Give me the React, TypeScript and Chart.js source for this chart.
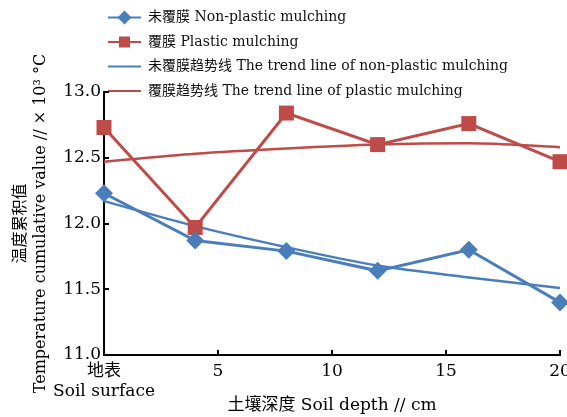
import React, { useEffect, useRef } from 'react';
import { Chart, registerables } from 'chart.js';

Chart.register(...registerables);

// ---- data ----
const depths = [0, 4, 8, 12, 16, 20];
const nonPlastic = [12.23, 11.87, 11.79, 11.64, 11.8, 11.4];
const plastic = [12.73, 11.97, 12.84, 12.6, 12.76, 12.47];
const nonPlasticTrend = [12.17, 11.98, 11.82, 11.68, 11.59, 11.51];
const plasticTrend = [12.47, 12.53, 12.57, 12.6, 12.61, 12.58];
const xTicks = [0, 5, 10, 15, 20];
const yTicks = [11.0, 11.5, 12.0, 12.5, 13.0];
const seriesLabels = [
  '未覆膜 Non-plastic mulching',
  '覆膜 Plastic mulching',
  '未覆膜趋势线 The trend line of non-plastic mulching',
  '覆膜趋势线 The trend line of plastic mulching',
];
const surfaceLabel = ['地表', 'Soil surface'];
const xTitle = '土壤深度 Soil depth // cm';
const yTitle = ['温度累积值', 'Temperature cumulative value // × 10³ °C'];

const BLUE = '#4A7EBB';
const RED = '#BE4B48';
const FONT = "'DejaVu Serif', 'Noto Sans CJK SC', serif";

const toPoints = (ys: number[]) => depths.map((x, i) => ({ x, y: ys[i] }));

const stackedLegend = {
  id: 'stackedLegend',
  afterDraw(chart: any) {
    const ctx = chart.ctx as CanvasRenderingContext2D;
    const x0 = chart.chartArea.left + 4;
    const lineLen = 33;
    chart.data.datasets.forEach((ds: any, i: number) => {
      const y = 17.5 + i * 24.5;
      ctx.save();
      ctx.strokeStyle = ds.borderColor;
      ctx.lineWidth = 2;
      ctx.beginPath();
      ctx.moveTo(x0, y);
      ctx.lineTo(x0 + lineLen, y);
      ctx.stroke();
      const cx = x0 + lineLen / 2;
      ctx.fillStyle = ds.borderColor;
      if (ds.pointRadius > 0) {
        if (ds.pointStyle === 'rectRot') {
          const r = 7;
          ctx.beginPath();
          ctx.moveTo(cx, y - r);
          ctx.lineTo(cx + r, y);
          ctx.lineTo(cx, y + r);
          ctx.lineTo(cx - r, y);
          ctx.closePath();
          ctx.fill();
        } else {
          const s = 5.5;
          ctx.fillRect(cx - s, y - s, 2 * s, 2 * s);
        }
      }
      ctx.fillStyle = '#111';
      ctx.font = `14px ${FONT}`;
      ctx.textBaseline = 'middle';
      ctx.textAlign = 'left';
      ctx.fillText(ds.label, x0 + lineLen + 7, y);
      ctx.restore();
    });
  },
};

const innerTicks = {
  id: 'innerTicks',
  afterDraw(chart: any) {
    const ctx = chart.ctx as CanvasRenderingContext2D;
    const { left, bottom } = chart.chartArea;
    const xs = chart.scales.x;
    const ys = chart.scales.y;
    ctx.save();
    ctx.strokeStyle = '#000';
    ctx.lineWidth = 2;
    ctx.beginPath();
    yTicks.forEach((v) => {
      if (v === ys.min) return;
      const p = Math.round(ys.getPixelForValue(v));
      ctx.moveTo(left, p);
      ctx.lineTo(left + 5, p);
    });
    xTicks.forEach((v) => {
      if (v === xs.min) return;
      const p = Math.round(xs.getPixelForValue(v));
      ctx.moveTo(p, bottom);
      ctx.lineTo(p, bottom - 5);
    });
    ctx.stroke();
    ctx.restore();
  },
};

export default function App() {
  const ref = useRef<HTMLCanvasElement | null>(null);

  useEffect(() => {
    document.body.style.margin = '0';
    if (!ref.current) return;
    const chart = new Chart(ref.current, {
      type: 'line',
      data: {
        datasets: [
          {
            label: seriesLabels[0],
            data: toPoints(nonPlastic),
            borderColor: BLUE,
            backgroundColor: BLUE,
            borderWidth: 3,
            pointStyle: 'rectRot',
            pointRadius: 9,
            pointHoverRadius: 9,
            pointBorderWidth: 0,
            pointBackgroundColor: BLUE,
            tension: 0,
            clip: false,
          },
          {
            label: seriesLabels[1],
            data: toPoints(plastic),
            borderColor: RED,
            backgroundColor: RED,
            borderWidth: 3,
            pointStyle: 'rect',
            pointRadius: 10.6,
            pointHoverRadius: 10.6,
            pointBorderWidth: 0,
            pointBackgroundColor: RED,
            tension: 0,
            clip: false,
          },
          {
            label: seriesLabels[2],
            data: toPoints(nonPlasticTrend),
            borderColor: BLUE,
            backgroundColor: BLUE,
            borderWidth: 2.5,
            pointRadius: 0,
            cubicInterpolationMode: 'monotone',
            clip: false,
          },
          {
            label: seriesLabels[3],
            data: toPoints(plasticTrend),
            borderColor: RED,
            backgroundColor: RED,
            borderWidth: 2.5,
            pointRadius: 0,
            cubicInterpolationMode: 'monotone',
            clip: false,
          },
        ],
      } as any,
      options: {
        responsive: false,
        animation: false,
        devicePixelRatio: 1,
        layout: { autoPadding: false, padding: { top: 92, left: 0, right: 0, bottom: 0 } },
        plugins: {
          legend: { display: false },
          tooltip: { enabled: false },
        },
        scales: {
          x: {
            type: 'linear',
            min: 0,
            max: 20,
            afterBuildTicks: (s: any) => {
              s.ticks = xTicks.map((v) => ({ value: v }));
            },
            afterFit: (s: any) => {
              s.height = 62;
              s.paddingRight = 7;
            },
            ticks: {
              autoSkip: false,
              maxRotation: 0,
              padding: 6,
              color: '#000',
              font: { family: FONT, size: 17, lineHeight: 1.2 },
              callback: (v: any) => (Number(v) === 0 ? surfaceLabel : String(v)),
            },
            grid: { drawOnChartArea: false, drawTicks: false },
            border: { display: true, color: '#000', width: 2 },
            title: {
              display: true,
              text: xTitle,
              color: '#000',
              font: { family: FONT, size: 17, lineHeight: 1.2 },
              padding: { top: 0, bottom: 1 },
            },
          },
          y: {
            type: 'linear',
            min: 11,
            max: 13,
            afterBuildTicks: (s: any) => {
              s.ticks = yTicks.map((v) => ({ value: v }));
            },
            afterFit: (s: any) => {
              s.width = 104;
            },
            ticks: {
              padding: 3,
              color: '#000',
              font: { family: FONT, size: 17 },
              callback: (v: any) => Number(v).toFixed(1),
            },
            grid: { drawOnChartArea: false, drawTicks: false },
            border: { display: true, color: '#000', width: 2 },
            title: {
              display: true,
              text: yTitle,
              color: '#000',
              font: { family: FONT, size: 16, lineHeight: 1.25 },
              padding: { top: 11, bottom: 0 },
            },
          },
        },
      } as any,
      plugins: [stackedLegend, innerTicks],
    });
    return () => chart.destroy();
  }, []);

  return (
    <div style={{ width: 567, height: 417 }}>
      <canvas ref={ref} width={567} height={417} style={{ display: 'block' }} />
    </div>
  );
}
